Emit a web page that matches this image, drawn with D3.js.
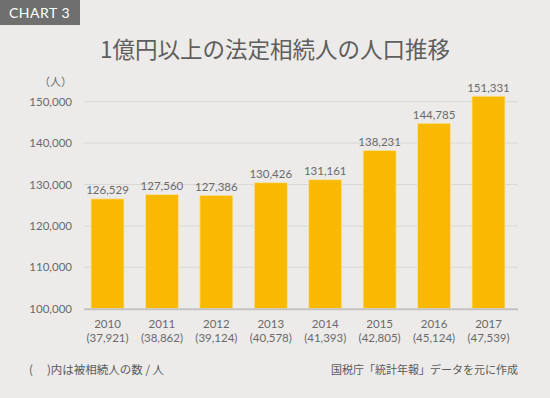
<!DOCTYPE html>
<html><head><meta charset="utf-8">
<script src="https://cdn.jsdelivr.net/npm/d3@7"></script>
<style>
html,body{margin:0;padding:0;background:#ecebe9;}
svg{display:block;}
text{font-family:"Lato","Noto Sans CJK JP",sans-serif;}
.jp{font-family:"Noto Sans CJK JP","Noto Sans",sans-serif;}
</style></head>
<body>
<script>
const years = ["2010","2011","2012","2013","2014","2015","2016","2017"];
const decedents = ["37,921","38,862","39,124","40,578","41,393","42,805","45,124","47,539"];
const heirs = [126529,127560,127386,130426,131161,138231,144785,151331];
const yTicks = [100000,110000,120000,130000,140000,150000];

const W=550,H=398;
const svg=d3.select("body").append("svg").attr("width",W).attr("height",H);
svg.append("rect").attr("width",W).attr("height",H).attr("fill","#ecebe9");

// badge
svg.append("rect").attr("x",0).attr("y",0).attr("width",80).attr("height",25).attr("fill","#6f6f6f");
svg.append("text").attr("x",9).attr("y",18).attr("fill","#fff").attr("font-size",14).attr("letter-spacing",0.5).text("CHART 3");

// title
svg.append("text").attr("class","jp").attr("x",275).attr("y",58).attr("text-anchor","middle")
  .attr("fill","#5e5e5e").attr("font-size",22.5).text("1億円以上の法定相続人の人口推移");

const x=d3.scaleBand().domain(years).range([80.3,515.7]).paddingInner(0.394).paddingOuter(0.197);
const y=d3.scaleLinear().domain([100000,150000]).range([308.7,101.7]);

// gridlines
svg.append("g").selectAll("line").data(yTicks.slice(1)).join("line")
  .attr("x1",84).attr("x2",518).attr("y1",d=>y(d)).attr("y2",d=>y(d))
  .attr("stroke","#d9d8d6").attr("stroke-width",1);

// y labels
const yAxis=d3.axisLeft(y).tickValues(yTicks).tickFormat(d3.format(",")).tickSize(0).tickPadding(0);
const ga=svg.append("g").attr("transform","translate(72,0)").call(yAxis);
ga.select(".domain").remove();
ga.selectAll("text").attr("font-size",11.5).attr("fill","#6a6a6a").attr("font-family","Lato,sans-serif");

svg.append("text").attr("class","jp").attr("x",72).attr("y",86).attr("text-anchor","end")
  .attr("fill","#6a6a6a").attr("font-size",11).text("（人）");

// bars
svg.append("g").selectAll("rect").data(years).join("rect")
  .attr("x",d=>x(d)).attr("width",x.bandwidth())
  .attr("y",(d,i)=>y(heirs[i])).attr("height",(d,i)=>y(100000)-y(heirs[i]))
  .attr("fill","#f9b900").attr("stroke","#f6e3a8").attr("stroke-width",0.8);

// baseline
svg.append("line").attr("x1",84).attr("x2",518).attr("y1",y(100000)+0.5).attr("y2",y(100000)+0.5)
  .attr("stroke","#c4c3c1").attr("stroke-width",2);

// value labels
svg.append("g").selectAll("text").data(years).join("text")
  .attr("x",d=>x(d)+x.bandwidth()/2).attr("y",(d,i)=>y(heirs[i])-4.5)
  .attr("text-anchor","middle").attr("fill","#6a6a6a").attr("font-size",11.5)
  .text((d,i)=>d3.format(",")(heirs[i]));

// x labels
const gx=svg.append("g").selectAll("g").data(years).join("g")
  .attr("transform",d=>`translate(${x(d)+x.bandwidth()/2},0)`);
gx.append("text").attr("y",328).attr("text-anchor","middle").attr("fill","#6a6a6a").attr("font-size",11.5).text(d=>d);
gx.append("text").attr("y",341.5).attr("text-anchor","middle").attr("fill","#6a6a6a").attr("font-size",11.5)
  .text((d,i)=>"("+decedents[i]+")");

// footer
svg.append("text").attr("class","jp").attr("x",29).attr("y",374).attr("fill","#5a5a5a").attr("font-size",11.5)
  .text("(　 )内は被相続人の数 / 人");
svg.append("text").attr("class","jp").attr("x",518).attr("y",374).attr("text-anchor","end").attr("fill","#5a5a5a").attr("font-size",11)
  .text("国税庁「統計年報」データを元に作成");
</script>
</body></html>
